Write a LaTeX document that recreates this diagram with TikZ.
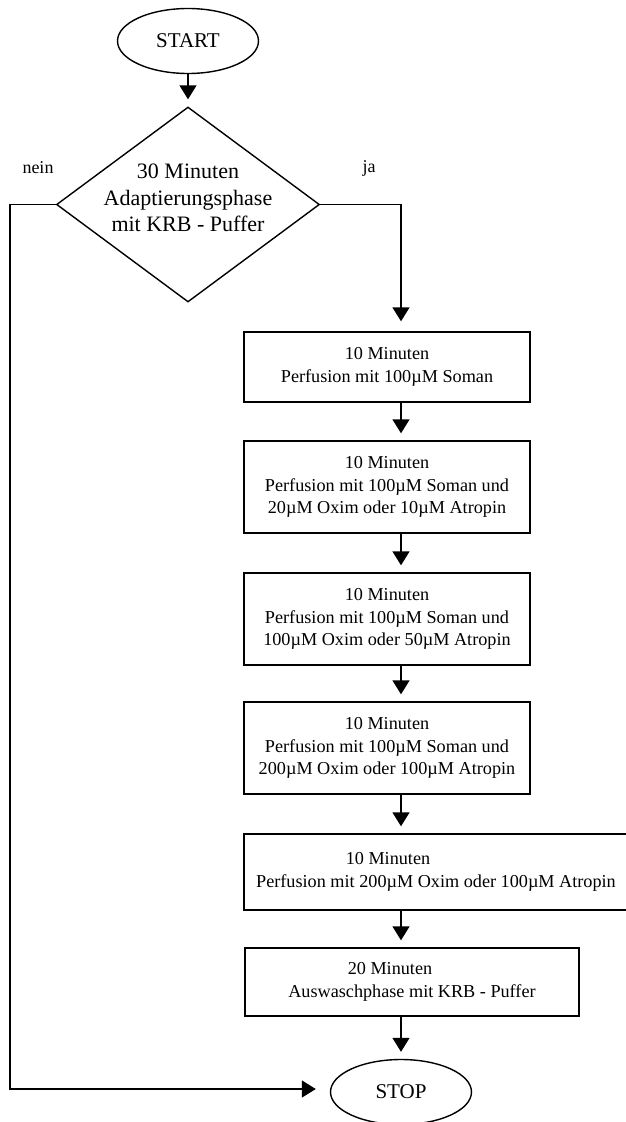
\documentclass[tikz,border=0pt]{standalone}
\usepackage{fontspec}
\setmainfont{Liberation Serif}
\usetikzlibrary{shapes.geometric,arrows.meta}
\begin{document}
\begin{tikzpicture}[x=1pt,y=-1pt,line width=1.4pt,
  term/.style={ellipse,draw,minimum width=141pt,minimum height=65pt,inner sep=0pt,font=\fontsize{21}{25}\selectfont},
  decision/.style={diamond,draw,inner sep=0pt,minimum width=263pt,minimum height=195pt},
  dtext/.style={align=center,inner sep=0pt,font=\fontsize{22}{26.5}\selectfont},
  procbox/.style={draw,rectangle,inner sep=0pt,align=center,font=\fontsize{18.2}{22.5}\selectfont},
  lbl/.style={inner sep=0pt,font=\fontsize{18}{21}\selectfont},
  flow/.style={-{Triangle[width=17pt,length=14pt]},shorten >=7pt}]
\useasboundingbox (0,0) rectangle (625,1122);
\coordinate (col) at (401,0);
\coordinate (lx) at (10,0);
\node[term] (start) at (188,41) {START};
\node[decision] (dec) at (188,204.5) {};
\node[dtext] (dectext) at (188,198) {30 Minuten\\Adaptierungsphase\\mit KRB - Puffer};
\node[lbl] (nein) at (38,168) {nein};
\node[lbl] (ja) at (369,168) {ja};
\node[procbox,minimum width=286pt,minimum height=70pt] (b1) at (387,367) {10 Minuten\\Perfusion mit 100µM Soman};
\node[procbox,minimum width=286pt,minimum height=92pt] (b2) at (387,487) {10 Minuten\\Perfusion mit 100µM Soman und\\20µM Oxim oder 10µM Atropin};
\node[procbox,minimum width=286pt,minimum height=92pt] (b3) at (387,619) {10 Minuten\\Perfusion mit 100µM Soman und\\100µM Oxim oder 50µM Atropin};
\node[procbox,minimum width=286pt,minimum height=92pt] (b4) at (387,748) {10 Minuten\\Perfusion mit 100µM Soman und\\200µM Oxim oder 100µM Atropin};
\node[procbox,minimum width=384pt,minimum height=76pt] (b5) at (436,872) {\hbox{10 Minuten\kern96pt}\\Perfusion mit 200µM Oxim oder 100µM Atropin};
\node[procbox,minimum width=334pt,minimum height=68pt] (b6) at (412,982) {\hbox{20 Minuten\kern44pt}\\Auswaschphase mit KRB - Puffer};
\node[term] (stop) at (401,1092) {STOP};
\draw[flow] (start.south) -- (dec.north);
\draw[flow,shorten >=10pt] (dec.east) -| (col |- b1.north);
\draw[flow,shorten >=14pt] (dec.west) -- (dec.west -| lx) -- (lx |- 0,1089) -- (stop.west |- 0,1089);
\draw[flow] (b1.south -| col) -- (b2.north -| col);
\draw[flow] (b2.south -| col) -- (b3.north -| col);
\draw[flow] (b3.south -| col) -- (b4.north -| col);
\draw[flow] (b4.south -| col) -- (b5.north -| col);
\draw[flow] (b5.south -| col) -- (b6.north -| col);
\draw[flow] (b6.south -| col) -- (stop.north);
\end{tikzpicture}
\end{document}
